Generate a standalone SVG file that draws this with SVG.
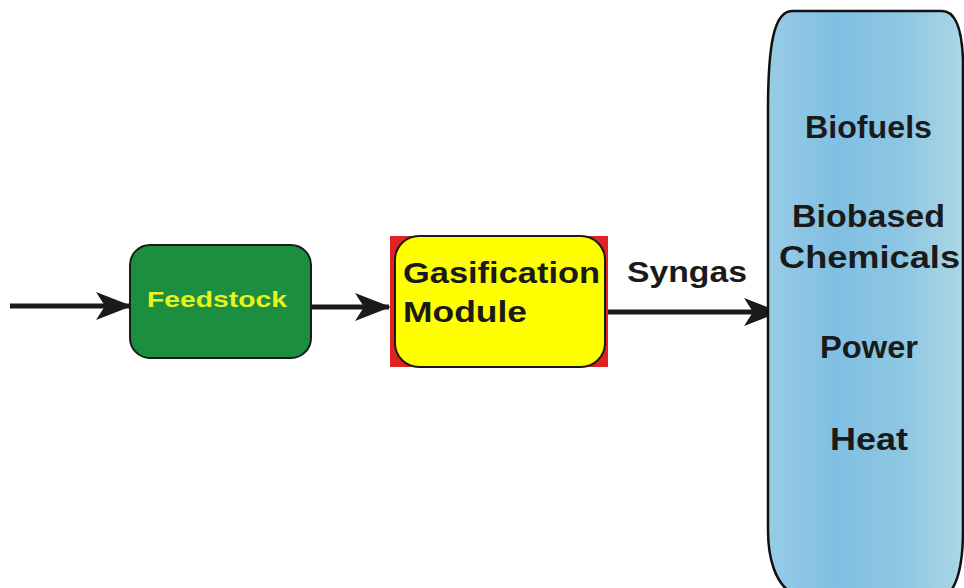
<svg xmlns="http://www.w3.org/2000/svg" width="964" height="588" viewBox="0 0 964 588">
<defs>
<style>
.lbl{font-family:"Liberation Sans",Arial,sans-serif;font-weight:bold;fill:#1a1a1a}
.conn{stroke:#1a1a1a;stroke-width:5;fill:none}
</style>
<marker id="ah" markerUnits="userSpaceOnUse" viewBox="0 0 36 28" refX="34" refY="14" markerWidth="36" markerHeight="28" orient="auto">
<path d="M0,0 L36,14 L0,28 L9,14 Z" fill="#1a1a1a"/>
</marker>
<linearGradient id="blue" x1="0" y1="0" x2="1" y2="0">
<stop offset="0" stop-color="#98cce6"/>
<stop offset="0.35" stop-color="#80bfe3"/>
<stop offset="0.7" stop-color="#8ec7e2"/>
<stop offset="1" stop-color="#acd6e4"/>
</linearGradient>
</defs>
<rect width="964" height="588" fill="#ffffff"/>
<g id="connectors">
<line class="conn" x1="10" y1="306" x2="130" y2="306" marker-end="url(#ah)"/>
<line class="conn" x1="311" y1="307" x2="389" y2="307" marker-end="url(#ah)"/>
<line class="conn" x1="605" y1="312" x2="778" y2="312" marker-end="url(#ah)"/>
<text class="lbl" x="627" y="282" font-size="30" textLength="120" lengthAdjust="spacingAndGlyphs">Syngas</text>
</g>
<g id="feedstock">
<rect x="130" y="245" width="181" height="113" rx="20" fill="#1b8f3f" stroke="#1a1a1a" stroke-width="2"/>
<text x="147" y="307" font-family="Liberation Sans,Arial,sans-serif" font-weight="bold" font-size="22" fill="#e8f21c" textLength="140" lengthAdjust="spacingAndGlyphs">Feedstock</text>
</g>
<g id="gasification">
<rect x="390" y="236" width="218" height="131" fill="#e02424"/>
<rect x="395" y="236" width="210" height="131" rx="24" fill="#ffff00" stroke="#1a1a1a" stroke-width="2"/>
<text class="lbl" x="403" y="283" font-size="30" textLength="197" lengthAdjust="spacingAndGlyphs">Gasification</text>
<text class="lbl" x="403" y="322" font-size="30" textLength="124" lengthAdjust="spacingAndGlyphs">Module</text>
</g>
<g id="products">
<path d="M768 110 C768 45 774 11 792 11 L942 11 C956 11 962 30 963 60 L963 530 C963 560 958 582 950 592 L790 592 C776 582 768 560 768 530 Z" fill="url(#blue)" stroke="#111" stroke-width="2.5"/>
<text class="lbl" x="805" y="138" font-size="32" textLength="127" lengthAdjust="spacingAndGlyphs">Biofuels</text>
<text class="lbl" x="792" y="227" font-size="32" textLength="153" lengthAdjust="spacingAndGlyphs">Biobased</text>
<text class="lbl" x="779" y="268" font-size="32" textLength="181" lengthAdjust="spacingAndGlyphs">Chemicals</text>
<text class="lbl" x="820" y="358" font-size="32" textLength="98" lengthAdjust="spacingAndGlyphs">Power</text>
<text class="lbl" x="830" y="450" font-size="32" textLength="78" lengthAdjust="spacingAndGlyphs">Heat</text>
</g>
</svg>
